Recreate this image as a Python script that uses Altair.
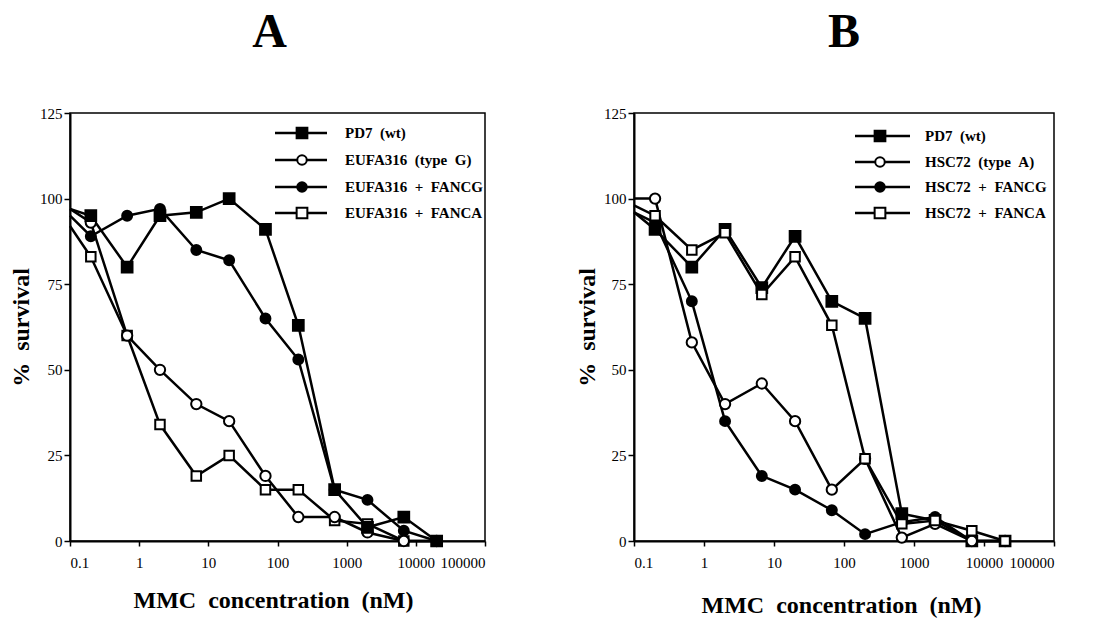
import altair as alt
import pandas as pd

# concentrations (nM); first value is the left edge of the axis where the curves start
conc = [0.1, 0.2, 0.67, 2, 6.7, 20, 67, 200, 670, 2000, 6700, 20000]

a_labels = ["PD7\u2002(wt)", "EUFA316\u2002(type\u2002G)", "EUFA316\u2002+\u2002FANCG", "EUFA316\u2002+\u2002FANCA"]
a_pd7 = [97, 95, 80, 95, 96, 100, 91, 63, 15, 4, 7, 0]
a_typeg = [97, 93, 60, 50, 40, 35, 19, 7, 7, 2.5, 0, 0]
a_fancg = [95, 89, 95, 97, 85, 82, 65, 53, 15, 12, 3, 0]
a_fanca = [92, 83, 60, 34, 19, 25, 15, 15, 6, 5, 0, 0]

b_labels = ["PD7\u2002(wt)", "HSC72\u2002(type\u2002A)", "HSC72\u2002+\u2002FANCG", "HSC72\u2002+\u2002FANCA"]
b_pd7 = [96, 91, 80, 91, 74, 89, 70, 65, 8, 6, 0, 0]
b_typea = [100, 100, 58, 40, 46, 35, 15, 24, 1, 5, 0, 0]
b_fancg = [96, 93, 70, 35, 19, 15, 9, 2, 5.5, 7, 0, 0]
b_fanca = [98, 95, 85, 90, 72, 83, 63, 24, 5, 6, 3, 0]

shapes = ["square", "circle", "circle", "square"]
fills = ["black", "white", "black", "white"]
sizes = [115, 90, 90, 115]
tick_x = [0.1, 1, 10, 100, 1000, 10000, 100000]
tick_y = [0, 25, 50, 75, 100, 125]

FONT = "Liberation Serif"
H = 428


def make_df(labels, series, draw_order):
    rows = []
    for rank, idx in enumerate(draw_order):
        for c, v in zip(conc, series[idx]):
            rows.append({"series": labels[idx], "conc": c, "surv": v, "z": rank})
    return pd.DataFrame(rows)


def panel(letter, labels, series, draw_order, width, title_dx, ytitle_x, xtitle_x, xtitle_y, leg):
    df = make_df(labels, series, draw_order)
    xenc = alt.X("conc:Q",
                 scale=alt.Scale(type="log", domain=[0.1, 100000]),
                 axis=alt.Axis(values=tick_x, format="~g", title="MMC\u2002concentration\u2002(nM)",
                               titleX=xtitle_x, titleY=xtitle_y, titleBaseline="middle"))
    yenc = alt.Y("surv:Q",
                 scale=alt.Scale(domain=[0, 125], nice=False),
                 axis=alt.Axis(values=tick_y, title="%\u2002survival", titleX=ytitle_x,
                               titleBaseline="middle"))
    lines = alt.Chart(df).mark_line(color="black", strokeWidth=2.5).encode(
        x=xenc, y=yenc, detail="series:N", order="conc:Q")
    pts = alt.Chart(df).transform_filter("datum.conc > 0.1").mark_point(
        filled=True, stroke="black", strokeWidth=2, opacity=1).encode(
        x="conc:Q", y="surv:Q",
        shape=alt.Shape("series:N", scale=alt.Scale(domain=labels, range=shapes), legend=None),
        fill=alt.Fill("series:N", scale=alt.Scale(domain=labels, range=fills), legend=None),
        size=alt.Size("series:N", scale=alt.Scale(domain=labels, range=sizes), legend=None),
        order="z:Q",
    )
    layers = [lines, pts]
    lx0, lx1, mx, tx, ys = leg
    for i, lab in enumerate(labels):
        ldf = pd.DataFrame({"label": [lab]})
        base = alt.Chart(ldf)
        layers.append(base.mark_rule(color="black", strokeWidth=2.5).encode(
            x=alt.value(lx0), x2=alt.value(lx1), y=alt.value(ys[i])))
        layers.append(base.mark_point(filled=True, stroke="black", strokeWidth=2, opacity=1,
                                      shape=shapes[i], fill=fills[i], size=sizes[i]).encode(
            x=alt.value(mx), y=alt.value(ys[i])))
        layers.append(base.mark_text(align="left", baseline="middle", font=FONT, fontSize=15,
                                     fontWeight="bold", color="black").encode(
            x=alt.value(tx), y=alt.value(ys[i]), text="label:N"))
    return alt.layer(*layers).properties(
        width=width, height=H,
        title=alt.TitleParams(letter, fontSize=48, font=FONT, fontWeight="bold", color="black",
                              offset=49, dx=title_dx, anchor="middle"))


pa = panel("A", a_labels, [a_pd7, a_typeg, a_fancg, a_fanca], [3, 2, 1, 0], 415, -8, -49, 203, 59,
           (205, 257, 232, 275, [20, 47, 74, 100]))
pb = panel("B", b_labels, [b_pd7, b_typea, b_fancg, b_fanca], [0, 2, 1, 3], 420, 0, -47, 207, 64,
           (221, 276, 246, 291, [23, 49, 74, 100]))

chart = alt.hconcat(pa, pb, spacing=87, padding={"left": 0, "top": 0, "right": 0, "bottom": 0}).resolve_scale(
    shape="independent", fill="independent", size="independent"
).configure_view(
    stroke="black", strokeWidth=1.5
).configure_axis(
    grid=False, domainColor="black", domainWidth=2, tickColor="black", tickWidth=1.5,
    labelFont=FONT, labelFontSize=15, labelColor="black",
    titleFont=FONT, titleFontSize=24, titleFontWeight="bold", titleColor="black"
).configure_axisX(tickSize=5, labelPadding=9).configure_axisY(tickSize=6, labelPadding=2)

chart.save("out.html", embed_options={"renderer": "svg", "actions": False})
